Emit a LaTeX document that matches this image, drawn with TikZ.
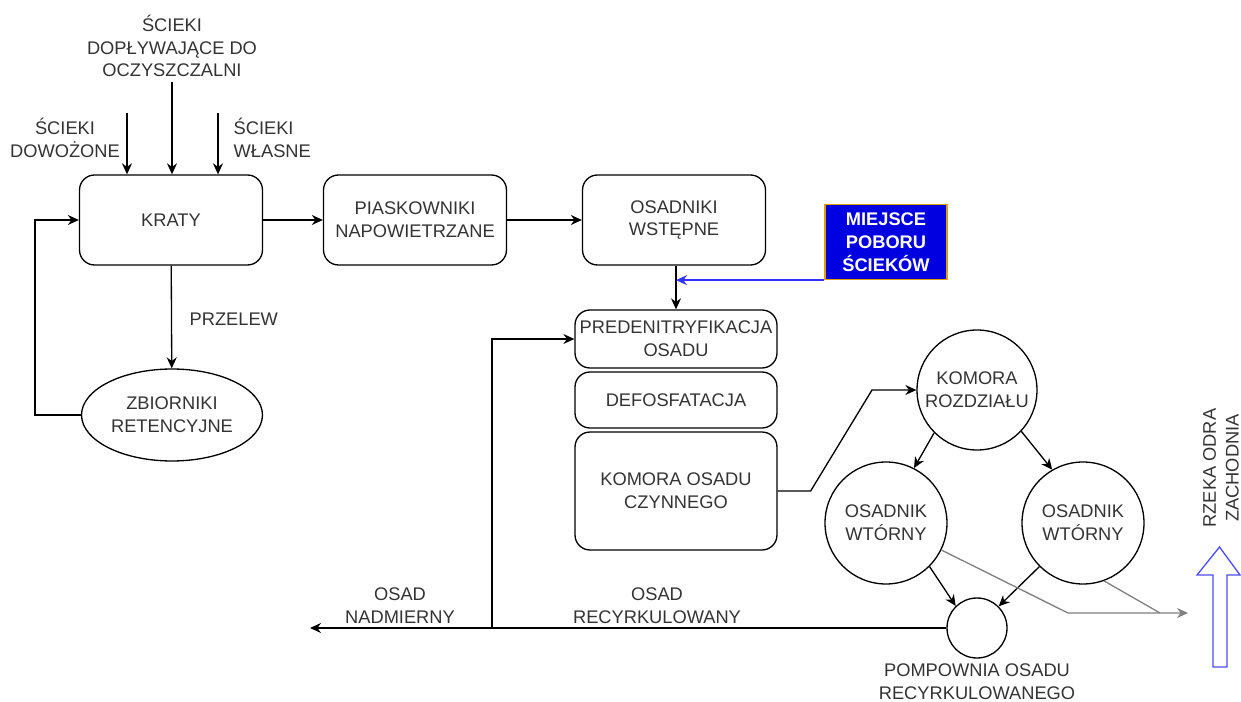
\documentclass[tikz,border=0pt]{standalone}
\usepackage{fontspec}
\setmainfont{Liberation Sans}
\usetikzlibrary{arrows.meta,shapes.geometric}
\definecolor{txtgray}{HTML}{333333}
\definecolor{probefill}{HTML}{0000E0}
\definecolor{probeedge}{HTML}{E0A000}
\definecolor{probeline}{HTML}{3333FF}
\definecolor{riverblue}{HTML}{4D4DFF}
\definecolor{outflow}{HTML}{808080}
\newcommand{\flowfont}{\fontsize{10.4}{13}\selectfont}

\begin{document}
\begin{tikzpicture}[x=0.02cm,y=-0.02cm,line width=0.75pt,
  every node/.style={text=txtgray,font=\flowfont,align=center,inner sep=0pt},
  unit/.style={draw,rounded corners=0.3cm,minimum width=3.66cm,minimum height=1.8cm},
  stage/.style={draw,rounded corners=0.3cm,minimum width=4.04cm},
  tank/.style={draw,circle,minimum size=2.44cm},
  flow/.style={-{Stealth[length=2.2mm,width=2mm]}}]
\useasboundingbox (0,0) rectangle (1241,702);

% main line
\node[unit] (kraty) at (171,220) {KRATY};
\node[unit] (piask) at (415,220) {PIASKOWNIKI\\NAPOWIETRZANE};
\node[unit] (osadw) at (674,220) {OSADNIKI\\WSTĘPNE};
\node[draw=probeedge,fill=probefill,text=white,font=\flowfont\bfseries,minimum width=2.44cm,minimum height=1.5cm] (probe) at (886,242) {MIEJSCE\\POBORU\\ŚCIEKÓW};
\node[draw,ellipse,minimum width=3.62cm,minimum height=1.84cm] (zbior) at (172,415) {ZBIORNIKI\\RETENCYJNE};

% biology
\node[stage,minimum height=1.16cm] (predn) at (676,339) {PREDENITRYFIKACJA\\OSADU};
\node[stage,minimum height=1.12cm] (defos) at (676,400) {DEFOSFATACJA};
\node[stage,minimum height=2.36cm] (komos) at (676,491) {KOMORA OSADU\\CZYNNEGO};

% settling
\node[tank,minimum size=2.4cm] (rozdz) at (977,390) {KOMORA\\ROZDZIAŁU};
\node[tank] (wtor1) at (886,523) {OSADNIK\\WTÓRNY};
\node[tank] (wtor2) at (1083,523) {OSADNIK\\WTÓRNY};
\node[draw,circle,minimum size=1.2cm] (pump) at (977,628) {};
\node at (977,682) {POMPOWNIA OSADU\\RECYRKULOWANEGO};

% inflows
\coordinate (inDow) at (127,113);
\coordinate (inMain) at (172,82);
\coordinate (inWl) at (218,113);
\node (labMain) at (172,46) {ŚCIEKI\\DOPŁYWAJĄCE DO\\OCZYSZCZALNI};
\node (labDow) at (65,138) {ŚCIEKI\\DOWOŻONE};
\node[anchor=west,align=left] (labWl) at (233,138) {ŚCIEKI\\WŁASNE};
\draw[flow] (inDow) -- (inDow |- kraty.north);
\draw[flow] (inMain) -- (inMain |- kraty.north);
\draw[flow] (inWl) -- (inWl |- kraty.north);

\draw[flow] (kraty) -- (piask);
\draw[flow] (piask) -- (osadw);
\draw[flow] (kraty) -- node[right=0.35cm,pos=0.52] {PRZELEW} (zbior);
\draw[flow] (zbior.west) -- ++(-46,0) |- (kraty.west);
\draw[flow] (osadw.south -| predn.north) -- (predn.north);
\draw[flow,probeline] (probe.south west) -- (probe.south west -| predn.north);

\draw[flow] (komos.east) -- ++(33,0) -- (872,390) -- (rozdz.west);
\draw[flow] (rozdz.225) -- (wtor1.63);
\draw[flow] (rozdz.-43) -- (wtor2.120);
\draw[flow] (wtor1.-45) -- (pump.134);
\draw[flow] (wtor2.225) -- (pump.45);

% sludge
\coordinate (split) at (492,628);
\coordinate (excess) at (310,628);
\draw[flow] (pump.west) -- (excess);
\draw[flow] (split) |- (predn.west);
\node at (400,606) {OSAD\\NADMIERNY};
\node at (657,606) {OSAD\\RECYRKULOWANY};

% outflow
\coordinate (river) at (1188,613);
\draw[flow,outflow] (wtor1.-26) -- (1068,613) -- (river);
\draw[outflow] (wtor2.-70) -- (1160,613);
\draw[riverblue] (1213,667) -- (1213,575) -- (1197,575) -- (1219.5,547) -- (1240,575)
  -- (1227,575) -- (1227,667) -- cycle;
\node[rotate=90] (odra) at (1221,468) {RZEKA ODRA\\ZACHODNIA};
\end{tikzpicture}
\end{document}
